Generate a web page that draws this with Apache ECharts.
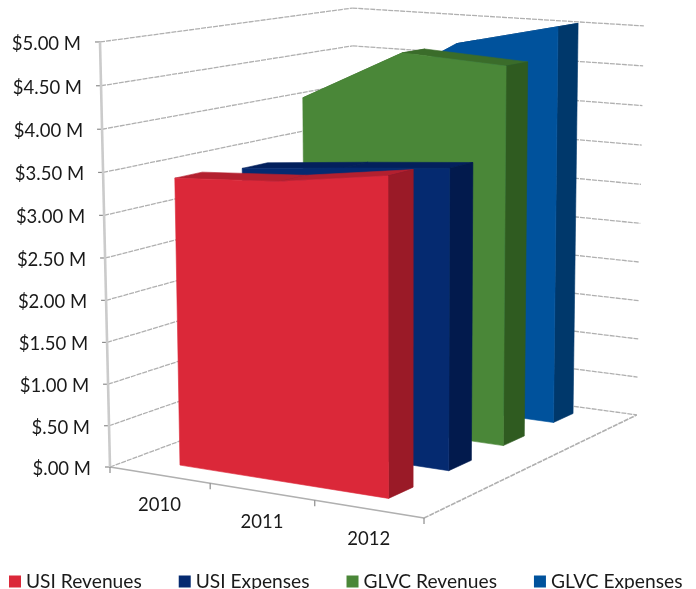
<!DOCTYPE html>
<html>
<head>
<meta charset="utf-8">
<style>html,body{margin:0;padding:0;background:#fff}#chart{width:696px;height:589px}</style>
<script src="https://cdn.jsdelivr.net/npm/echarts@6/dist/echarts.min.js"></script>
</head>
<body>
<div id="chart"></div>
<script>
// Program finances, $ per year
const years = ['2010', '2011', '2012'];
const usiRevenues = [3460000, 3540000, 3720000];
const usiExpenses = [3400000, 3520000, 3630000];
const glvcRevenues = [4110000, 4750000, 4680000];
const glvcExpenses = [4000000, 4750000, 5040000];
const valueTicks = [0, 500000, 1000000, 1500000, 2000000, 2500000, 3000000, 3500000, 4000000, 4500000, 5000000];
const valueLabels = ['$.00 M', '$.50 M', '$1.00 M', '$1.50 M', '$2.00 M', '$2.50 M', '$3.00 M', '$3.50 M', '$4.00 M', '$4.50 M', '$5.00 M'];

const FONT = 'Lato, "Open Sans", sans-serif';
const GRID_LINE = '#b0b0b0';

// Perspective camera: maps unit-cube coordinates (x along years, t up the
// value axis, z into the depth) to the page.
const cam = { ox: 110, oy: 467, ax: 287.3, ay: 18.4, bx: -13.25, by: -426.4, cx: 299.4, cy: -31.5, e: -0.063, f: -0.0325, g: 0.157 };
function project(x, t, z) {
  const w = 1 + cam.e * x + cam.f * t + cam.g * z;
  return [(cam.ox + cam.ax * x + cam.bx * t + cam.cx * z) / w,
          (cam.oy + cam.ay * x + cam.by * t + cam.cy * z) / w];
}

// Read a data point through the hidden cartesian axes as unit-cube fractions.
function unit(params, api, cat, val) {
  const p = api.coord([cat, val]);
  const cs = params.coordSys;
  return [(p[0] - cs.x) / cs.width, (cs.y + cs.height - p[1]) / cs.height];
}

function poly(points, fill, z2) {
  return { type: 'polygon', z2: z2, shape: { points: points }, style: { fill: fill, stroke: fill, lineWidth: 0.6 } };
}
function seg(a, b, color, width, dash) {
  return { type: 'line', shape: { x1: a[0], y1: a[1], x2: b[0], y2: b[1] },
    style: { stroke: color, lineWidth: width, lineDash: dash || null, fill: null } };
}
function label(text, x, y, align) {
  return { type: 'text', z2: 5, style: { text: text, x: x, y: y, align: align, verticalAlign: 'middle',
    font: '18.5px ' + FONT, fill: '#1a1a1a' } };
}

// Walls, floor, ticks and axis labels.
function renderFrame(params, api) {
  if (params.dataIndex !== 0) return null;
  const out = [];
  const band = 1 / years.length;
  valueTicks.forEach(function (v, i) {
    const t = unit(params, api, 0, v)[1];
    const front = project(0, t, 0), corner = project(0, t, 1), end = project(1, t, 1);
    out.push(seg(front, corner, GRID_LINE, 1.3, [5, 1]));
    out.push(seg(corner, end, GRID_LINE, 1.3, [5, 1]));
    out.push(seg([front[0] - 5, front[1]], front, '#8c8c8c', 1.2));
    out.push(label(valueLabels[i], front[0] - 19, front[1] + 2, 'right'));
  });
  out.push(seg(project(0, 0, 0), project(0, 1, 0), '#cbcbcb', 2.6));
  out.push(seg(project(0, 0, 0), project(1, 0, 0), GRID_LINE, 1.6));
  out.push(seg(project(1, 0, 0), project(1, 0, 1), GRID_LINE, 1.6, [5, 1]));
  for (let i = 0; i <= years.length; i++) {
    const p = project(i * band, 0, 0);
    out.push(seg(p, [p[0], p[1] + 6], '#8c8c8c', 1.2));
  }
  years.forEach(function (y, i) {
    const x = unit(params, api, i, 0)[0];
    const p = project(x, 0, 0);
    out.push(label(y, p[0], p[1] + 30, 'center'));
  });
  return { type: 'group', children: out };
}

// One extruded area band occupying a slot along the depth axis; the band
// rests on a thin floor slab just above the zero plane.
const AREA_SHIFT = 0.018;
const BAND_DEPTH = 0.1;
const FLOOR_LIFT = 0.012;
function bandRenderer(values, zFront, front, side, top) {
  return function (params, api) {
    if (params.dataIndex !== 0) return null;
    const zBack = zFront + BAND_DEPTH;
    const pts = values.map(function (v, i) {
      const u = unit(params, api, i, v);
      return [u[0] + AREA_SHIFT, u[1]];
    });
    const children = [];
    for (let i = 0; i < pts.length - 1; i++) {
      const a = pts[i], b = pts[i + 1];
      children.push(poly([project(a[0], a[1], zFront), project(b[0], b[1], zFront),
                          project(b[0], b[1], zBack), project(a[0], a[1], zBack)], top, 1));
    }
    const last = pts[pts.length - 1];
    children.push(poly([project(last[0], FLOOR_LIFT, zFront), project(last[0], last[1], zFront),
                        project(last[0], last[1], zBack), project(last[0], FLOOR_LIFT, zBack)], side, 2));
    const outline = pts.map(function (p) { return project(p[0], p[1], zFront); });
    outline.push(project(last[0], FLOOR_LIFT, zFront));
    outline.push(project(pts[0][0], FLOOR_LIFT, zFront));
    children.push(poly(outline, front, 3));
    return { type: 'group', children: children };
  };
}

function bandSeries(name, values, zFront, front, side, top, layer) {
  return {
    name: name, type: 'custom', coordinateSystem: 'cartesian2d', clip: false, z: layer,
    itemStyle: { color: front },
    encode: { x: 0, y: 1 },
    data: values.map(function (v, i) { return [i, v]; }),
    renderItem: bandRenderer(values, zFront, front, side, top)
  };
}

const chart = echarts.init(document.getElementById('chart'), null, { renderer: 'canvas' });
chart.setOption({
  animation: false,
  backgroundColor: '#ffffff',
  grid: { left: 0, right: 0, top: 0, bottom: 0 },
  xAxis: { type: 'category', data: years, show: false },
  yAxis: { type: 'value', min: 0, max: 5000000, interval: 500000, show: false },
  legend: {
    data: ['USI Revenues', 'USI Expenses', 'GLVC Revenues', 'GLVC Expenses'],
    left: 4, top: 567, itemWidth: 12, itemHeight: 12, itemGap: 37, icon: 'rect',
    textStyle: { fontFamily: FONT, fontSize: 19.2, color: '#1a1a1a' }
  },
  series: [
    { type: 'custom', name: 'frame', coordinateSystem: 'cartesian2d', clip: false, silent: true, z: 2,
      encode: { x: 0, y: 1 }, data: [[0, 0]], renderItem: renderFrame },
    bandSeries('GLVC Expenses', glvcExpenses, 0.796, '#00529c', '#00386b', '#004583', 3),
    bandSeries('GLVC Revenues', glvcRevenues, 0.552, '#4a8738', '#2f5b20', '#3a6c2a', 4),
    bandSeries('USI Expenses', usiExpenses, 0.306, '#052a70', '#021a4d', '#03205c', 5),
    bandSeries('USI Revenues', usiRevenues, 0.055, '#db2839', '#9a1a27', '#b3202f', 6)
  ]
});
</script>
</body>
</html>
